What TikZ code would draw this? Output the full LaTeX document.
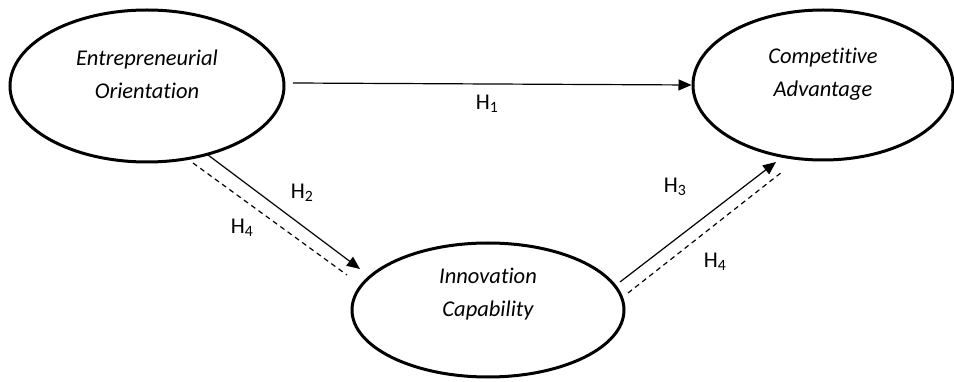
\documentclass[tikz,border=0pt]{standalone}
\usepackage{fontspec}
\setmainfont{Carlito}[Ligatures=NoCommon]
\usetikzlibrary{shapes.geometric,arrows.meta}
\begin{document}
\begin{tikzpicture}[x=1pt,y=-1pt,
  construct/.style={draw,ellipse,line width=3pt,inner sep=0pt},
  ctext/.style={font=\fontsize{22.5}{33}\selectfont\itshape,align=center},
  hlabel/.style={font=\fontsize{22.5}{27}\selectfont},
  path/.style={line width=1.2pt,-{Triangle[length=13pt,width=11pt]}},
  mediated/.style={line width=1.2pt,dash pattern=on 5pt off 4pt}]
\useasboundingbox (0,0) rectangle (954,382);
\node[construct,minimum width=274pt,minimum height=152pt] (eo) at (147,86) {};
\node[construct,minimum width=260pt,minimum height=150pt] (ca) at (823,85) {};
\node[construct,minimum width=272pt,minimum height=134pt] (ic) at (488,310) {};
\node[ctext] (eot) at (147,74) {Entrepreneurial\\Orientation};
\node[ctext] (cat) at (823,74) {Competitive\\Advantage};
\node[ctext] (ict) at (488,294) {Innovation\\Capability};
% H1
\coordinate (h1s) at (293,83);
\draw[path] (h1s) -- (ca.west);
\node[hlabel] (l1) at (487,104) {H\textsubscript{1}};
% H2 / H4 left
\coordinate (h2s) at (208,155);
\coordinate (h2e) at (360,269);
\draw[path] (h2s) -- (h2e);
\coordinate (d1s) at (193,163);
\coordinate (d1e) at (347,275);
\draw[mediated] (d1s) -- (d1e);
\node[hlabel] (l2) at (302,193) {H\textsubscript{2}};
\node[hlabel] (l4a) at (242,228) {H\textsubscript{4}};
% H3 / H4 right
\coordinate (h3s) at (620,282);
\coordinate (h3e) at (776,162);
\draw[path] (h3s) -- (h3e);
\coordinate (d2s) at (628,293);
\coordinate (d2e) at (782,172);
\draw[mediated] (d2s) -- (d2e);
\node[hlabel] (l3) at (675,187) {H\textsubscript{3}};
\node[hlabel] (l4b) at (715,262) {H\textsubscript{4}};
\end{tikzpicture}
\end{document}
